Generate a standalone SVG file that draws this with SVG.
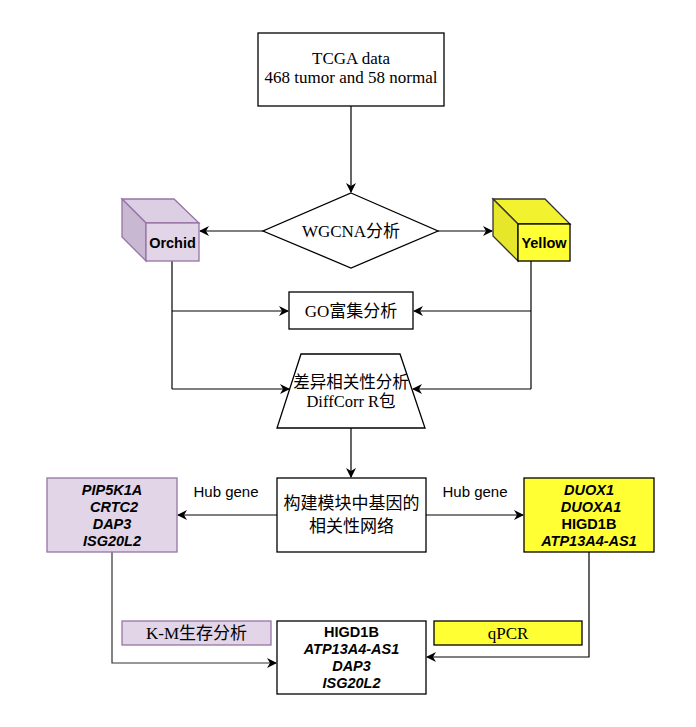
<svg xmlns="http://www.w3.org/2000/svg" width="696" height="727" viewBox="0 0 696 727">
<defs>
<marker id="ah" viewBox="0 0 10 10" refX="9" refY="5" markerWidth="10" markerHeight="10" markerUnits="userSpaceOnUse" orient="auto">
<path d="M0,0 L10,5 L0,10 L3,5 Z" fill="#000"/>
</marker>
</defs>
<style>
.ser{font-family:"Liberation Serif","Noto Sans CJK SC",serif;fill:#000}
.cjk{font-family:"Noto Sans CJK SC",sans-serif;fill:#000}
.gene{font-family:"Liberation Sans",Arial,sans-serif;font-weight:bold;font-style:italic;font-size:14.5px;fill:#000}
.bold{font-family:"Liberation Sans",Arial,sans-serif;font-weight:bold;font-size:14.5px;fill:#000}
.lbl{font-family:"Liberation Sans",Arial,sans-serif;font-size:15px;fill:#000}
.box{fill:#fff;stroke:#000;stroke-width:1.3}
.pur{fill:#e1d5e7;stroke:#9673a6;stroke-width:1.3}
.yel{fill:#ffff33;stroke:#000;stroke-width:1.3}
.edge{fill:none;stroke:#000;stroke-width:1.2;marker-end:url(#ah)}
.line{fill:none;stroke:#000;stroke-width:1.2}
</style>
<g id="edges">
<path class="edge" d="M351,106 L351,192"/>
<path class="edge" d="M263,231 L200,231"/>
<path class="edge" d="M438,231 L492,231"/>
<path class="line" d="M172,261 L172,389"/>
<path class="edge" d="M172,311 L288,311"/>
<path class="edge" d="M172,389 L289,389"/>
<path class="line" d="M531,261 L531,389"/>
<path class="edge" d="M531,311 L414,311"/>
<path class="edge" d="M531,389 L413,389"/>
<path class="edge" d="M351,428 L351,477"/>
<path class="edge" d="M277,515 L178,515"/>
<path class="edge" d="M426,515 L523,515"/>
<path class="edge" style="stroke:#333" d="M112,552 L112,663 L276,663"/>
<path class="edge" d="M589,552 L589,657 L427,657"/>
</g>
<g id="tcga">
<rect class="box" x="258" y="33" width="186" height="73"/>
<text class="ser" x="351" y="64" font-size="17" text-anchor="middle">TCGA data</text>
<text class="ser" x="351" y="83" font-size="17" text-anchor="middle">468 tumor and 58 normal</text>
</g>
<g id="wgcna">
<polygon class="box" points="351,193 438,231 351,268 263,231"/>
<text class="ser" x="351" y="237" font-size="17" text-anchor="middle">WGCNA分析</text>
</g>
<g id="orchid">
<polygon points="122,199 174,199 199,223 146,223" fill="#dccfe3" stroke="#9673a6" stroke-width="1.3"/>
<polygon points="122,199 146,223 146,261 122,237" fill="#c9b8d2" stroke="#9673a6" stroke-width="1.3"/>
<rect class="pur" x="146" y="223" width="53" height="38"/>
<text class="bold" x="172.5" y="248" text-anchor="middle">Orchid</text>
</g>
<g id="yellow">
<polygon points="493,199 545,199 570,224 518,224" fill="#f2f22e" stroke="#333" stroke-width="1.3"/>
<polygon points="493,199 518,224 518,261 493,236" fill="#e6e62a" stroke="#333" stroke-width="1.3"/>
<rect x="518" y="224" width="52" height="37" fill="#ffff33" stroke="#000" stroke-width="1.3"/>
<text class="bold" x="544" y="248" text-anchor="middle">Yellow</text>
</g>
<g id="go">
<rect class="box" x="289" y="292" width="124" height="37"/>
<text class="ser" x="351" y="317" font-size="17" text-anchor="middle">GO富集分析</text>
</g>
<g id="diffcorr">
<polygon class="box" points="301,354 400,354 425,428 277,428"/>
<text class="ser" x="351" y="388" font-size="16.5" text-anchor="middle">差异相关性分析</text>
<text class="ser" x="351" y="407" font-size="16.5" text-anchor="middle">DiffCorr R包</text>
</g>
<g id="network">
<rect class="box" x="277" y="478" width="149" height="74"/>
<text class="cjk" x="351.5" y="509" font-size="17" text-anchor="middle">构建模块中基因的</text>
<text class="cjk" x="351.5" y="532" font-size="17" text-anchor="middle">相关性网络</text>
</g>
<g id="hub-left-label"><text class="lbl" x="226" y="497" text-anchor="middle">Hub gene</text></g>
<g id="hub-right-label"><text class="lbl" x="475" y="497" text-anchor="middle">Hub gene</text></g>
<g id="orchid-genes">
<rect class="pur" x="47" y="478" width="130" height="74"/>
<text class="gene" x="112" y="495" text-anchor="middle">PIP5K1A</text>
<text class="gene" x="114" y="512" text-anchor="middle">CRTC2</text>
<text class="gene" x="112" y="529" text-anchor="middle">DAP3</text>
<text class="gene" x="112" y="546" text-anchor="middle">ISG20L2</text>
</g>
<g id="yellow-genes">
<rect class="yel" x="524" y="478" width="130" height="74"/>
<text class="gene" x="589" y="495" text-anchor="middle">DUOX1</text>
<text class="gene" x="591" y="512" text-anchor="middle">DUOXA1</text>
<text class="bold" x="589" y="529" text-anchor="middle">HIGD1B</text>
<text class="gene" x="589" y="546" text-anchor="middle">ATP13A4-AS1</text>
</g>
<g id="km">
<rect class="pur" x="122" y="621" width="149" height="24"/>
<text class="ser" x="196.5" y="639" font-size="17" text-anchor="middle">K-M生存分析</text>
</g>
<g id="final">
<rect class="box" x="277" y="621" width="149" height="73"/>
<text class="bold" x="351.5" y="637" text-anchor="middle">HIGD1B</text>
<text class="gene" x="351.5" y="654" text-anchor="middle">ATP13A4-AS1</text>
<text class="gene" x="351.5" y="671" text-anchor="middle">DAP3</text>
<text class="gene" x="351.5" y="688" text-anchor="middle">ISG20L2</text>
</g>
<g id="qpcr">
<rect class="yel" x="434" y="621" width="148" height="24"/>
<text class="ser" x="508" y="639" font-size="17" text-anchor="middle">qPCR</text>
</g>
</svg>
